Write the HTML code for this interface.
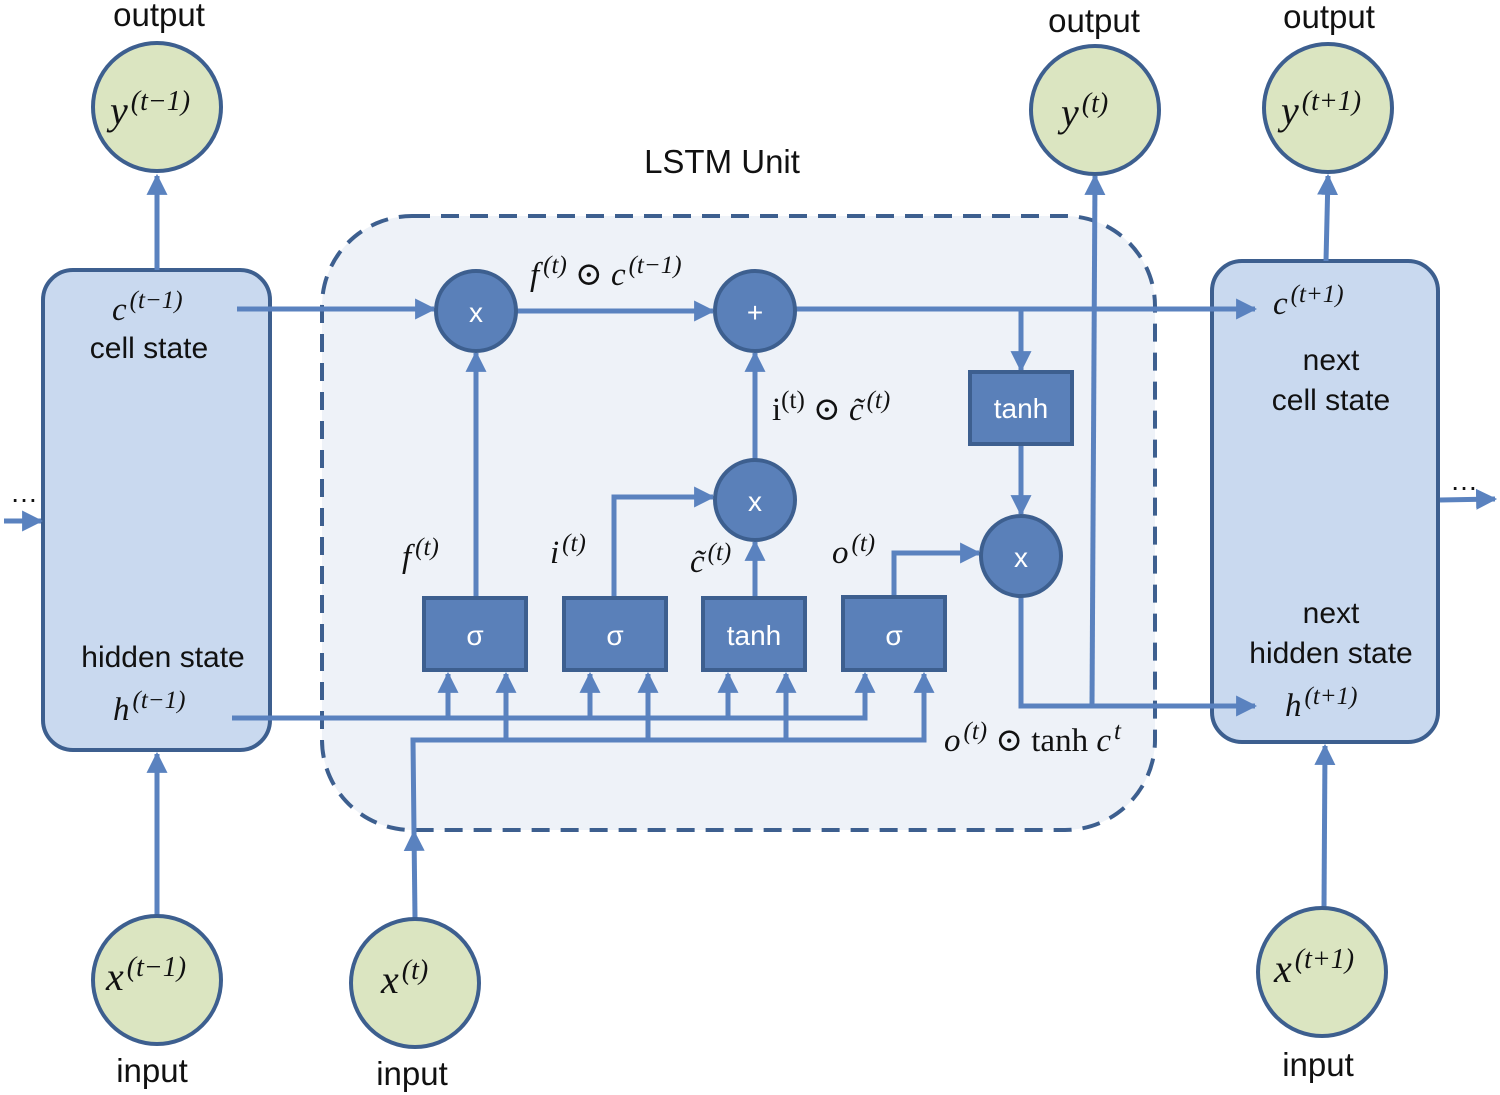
<!DOCTYPE html>
<html><head><meta charset="utf-8"><style>
html,body{margin:0;padding:0;background:#fff;}
svg{display:block;}
.s{font-family:"Liberation Sans","DejaVu Sans",sans-serif;fill:#111;}
.m{font-family:"Liberation Serif","DejaVu Serif",serif;font-style:italic;fill:#111;}
.w{font-family:"Liberation Sans","DejaVu Sans",sans-serif;fill:#fff;}
</style></head><body>
<svg width="1500" height="1095" viewBox="0 0 1500 1095" xmlns="http://www.w3.org/2000/svg">
<defs>
<marker id="a" viewBox="0 0 10 10" refX="9" refY="5" markerWidth="4.2" markerHeight="4.2" orient="auto" markerUnits="strokeWidth">
<path d="M0,0 L10,5 L0,10 z" fill="#5a82bf"/></marker>
</defs>
<rect x="322" y="216" width="833" height="614" rx="90" fill="#eef2f8" stroke="#3d5f8f" stroke-width="4" stroke-dasharray="18,11"/>
<text x="722" y="173" class="s" font-size="33" text-anchor="middle">LSTM Unit</text>
<rect x="43" y="270" width="227" height="480" rx="30" fill="#c9d9ef" stroke="#3d5f8f" stroke-width="4"/>
<rect x="1212" y="261" width="226" height="481" rx="30" fill="#c9d9ef" stroke="#3d5f8f" stroke-width="4"/>

<g stroke="#5a82bf" stroke-width="5" fill="none">
<line x1="237" y1="309" x2="434" y2="309" marker-end="url(#a)"/>
<line x1="516" y1="311" x2="713" y2="311" marker-end="url(#a)"/>
<line x1="795" y1="309" x2="1255" y2="309" marker-end="url(#a)"/>
<line x1="1021" y1="309" x2="1021" y2="370" marker-end="url(#a)"/>
<line x1="1021" y1="444" x2="1021" y2="514" marker-end="url(#a)"/>
<polyline points="1021,596 1021,706 1255,706" marker-end="url(#a)"/>
<line x1="1092" y1="706" x2="1095" y2="176" marker-end="url(#a)"/>
<line x1="476" y1="598" x2="476" y2="353" marker-end="url(#a)"/>
<polyline points="614,598 614,497 713,497" marker-end="url(#a)"/>
<line x1="755" y1="598" x2="755" y2="542" marker-end="url(#a)"/>
<line x1="755" y1="460" x2="755" y2="353" marker-end="url(#a)"/>
<polyline points="894,597 894,553 979,553" marker-end="url(#a)"/>
<polyline points="232,718 865,718 865,674" marker-end="url(#a)"/>
<line x1="448" y1="718" x2="448" y2="674" marker-end="url(#a)"/>
<line x1="590" y1="718" x2="590" y2="674" marker-end="url(#a)"/>
<line x1="728" y1="718" x2="728" y2="674" marker-end="url(#a)"/>
<line x1="415" y1="918" x2="414" y2="832" marker-end="url(#a)"/>
<polyline points="414,832 413,740 924,740 924,674" marker-end="url(#a)"/>
<line x1="506" y1="740" x2="506" y2="674" marker-end="url(#a)"/>
<line x1="648" y1="740" x2="648" y2="674" marker-end="url(#a)"/>
<line x1="786" y1="740" x2="786" y2="674" marker-end="url(#a)"/>
<line x1="157" y1="270" x2="157" y2="176" marker-end="url(#a)"/>
<line x1="1326" y1="261" x2="1328" y2="176" marker-end="url(#a)"/>
<line x1="157" y1="916" x2="157" y2="754" marker-end="url(#a)"/>
<line x1="1324" y1="908" x2="1325" y2="746" marker-end="url(#a)"/>
<line x1="4" y1="521" x2="41" y2="521" marker-end="url(#a)"/>
<line x1="1440" y1="500" x2="1495" y2="499" marker-end="url(#a)"/>
</g>

<g fill="#5a80b9" stroke="#3d5f8f" stroke-width="4">
<circle cx="476" cy="311" r="40"/><circle cx="755" cy="311" r="40"/>
<circle cx="755" cy="500" r="40"/><circle cx="1021" cy="556" r="40"/>
<rect x="424" y="598" width="102" height="72"/><rect x="564" y="598" width="102" height="72"/>
<rect x="703" y="598" width="102" height="72"/><rect x="843" y="597" width="102" height="73"/>
<rect x="970" y="372" width="102" height="72"/>
</g>
<g class="w" font-size="28" text-anchor="middle">
<text x="476" y="322">x</text><text x="755" y="322">+</text>
<text x="755" y="511">x</text><text x="1021" y="567">x</text>
<text x="475" y="645">σ</text><text x="615" y="645">σ</text>
<text x="754" y="645">tanh</text><text x="894" y="645">σ</text>
<text x="1021" y="418">tanh</text>
</g>

<g fill="#dbe5c1" stroke="#3d5f8f" stroke-width="4">
<circle cx="157" cy="107" r="64"/><circle cx="1095" cy="110" r="64"/><circle cx="1328" cy="108" r="64"/>
<circle cx="157" cy="980" r="64"/><circle cx="415" cy="983" r="64"/><circle cx="1322" cy="972" r="64"/>
</g>
<g class="m" font-size="40">
<text x="110" y="124">y<tspan font-size="28" dy="-14" dx="3">(t−1)</tspan></text>
<text x="1061" y="126">y<tspan font-size="28" dy="-14" dx="3">(t)</tspan></text>
<text x="1281" y="124">y<tspan font-size="28" dy="-14" dx="3">(t+1)</tspan></text>
<text x="106" y="990">x<tspan font-size="28" dy="-14" dx="3">(t−1)</tspan></text>
<text x="381" y="993">x<tspan font-size="28" dy="-14" dx="3">(t)</tspan></text>
<text x="1274" y="982">x<tspan font-size="28" dy="-14" dx="3">(t+1)</tspan></text>
</g>
<g class="s" font-size="33" text-anchor="middle">
<text x="159" y="26">output</text><text x="1094" y="32">output</text><text x="1329" y="28">output</text>
<text x="152" y="1082">input</text><text x="412" y="1085">input</text><text x="1318" y="1076">input</text>
</g>
<g class="s" font-size="30" text-anchor="middle">
<text x="149" y="358">cell state</text>
<text x="163" y="667">hidden state</text>
<text x="1331" y="370">next</text><text x="1331" y="410">cell state</text>
<text x="1331" y="623">next</text><text x="1331" y="663">hidden state</text>
</g>
<text x="10" y="502" class="s" font-size="28">…</text>
<text x="1450" y="490" class="s" font-size="28">…</text>
<g class="m" font-size="33">
<text x="112" y="320">c<tspan font-size="25" dy="-12" dx="3">(t−1)</tspan></text>
<text x="113" y="720">h<tspan font-size="25" dy="-12" dx="3">(t−1)</tspan></text>
<text x="1273" y="314">c<tspan font-size="25" dy="-12" dx="3">(t+1)</tspan></text>
<text x="1285" y="716">h<tspan font-size="25" dy="-12" dx="3">(t+1)</tspan></text>
<text x="530" y="285">f<tspan font-size="25" dy="-12" dx="4">(t)</tspan><tspan dy="12" font-style="normal"> ⊙ </tspan>c<tspan font-size="25" dy="-12" dx="3">(t−1)</tspan></text>
<text x="772" y="420"><tspan font-style="normal">i</tspan><tspan font-size="25" dy="-12" font-style="normal">(t)</tspan><tspan dy="12" font-style="normal"> ⊙ </tspan> c̃<tspan font-size="25" dy="-12" dx="3">(t)</tspan></text>
<text x="402" y="567">f<tspan font-size="25" dy="-12" dx="4">(t)</tspan></text>
<text x="550" y="563">i<tspan font-size="25" dy="-12" dx="3">(t)</tspan></text>
<text x="690" y="572">c̃<tspan font-size="25" dy="-12" dx="3">(t)</tspan></text>
<text x="832" y="563">o<tspan font-size="25" dy="-12" dx="3">(t)</tspan></text>
<text x="944" y="751">o<tspan font-size="25" dy="-12" dx="3">(t)</tspan><tspan dy="12" font-style="normal"> ⊙ tanh </tspan>c<tspan font-size="25" dy="-12" dx="3">t</tspan></text>
</g>
</svg>
</body></html>
